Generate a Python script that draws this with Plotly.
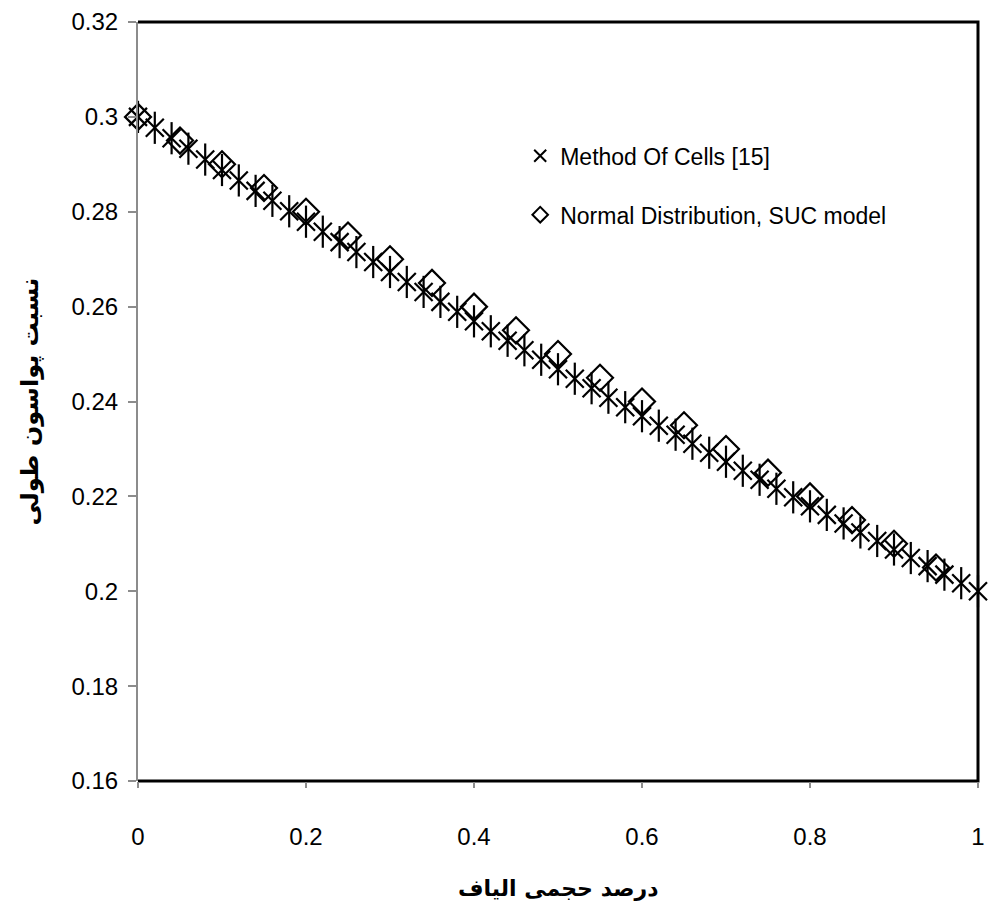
import plotly.graph_objects as go

# Fibre volume fraction and longitudinal Poisson's ratio
moc_x = [0.00, 0.02, 0.04, 0.06, 0.08, 0.10, 0.12, 0.14, 0.16, 0.18,
         0.20, 0.22, 0.24, 0.26, 0.28, 0.30, 0.32, 0.34, 0.36, 0.38,
         0.40, 0.42, 0.44, 0.46, 0.48, 0.50, 0.52, 0.54, 0.56, 0.58,
         0.60, 0.62, 0.64, 0.66, 0.68, 0.70, 0.72, 0.74, 0.76, 0.78,
         0.80, 0.82, 0.84, 0.86, 0.88, 0.90, 0.92, 0.94, 0.96, 0.98, 1.00]
moc_y = [0.3000, 0.2977, 0.2955, 0.2933, 0.2910, 0.2888, 0.2866, 0.2844, 0.2823, 0.2801,
         0.2779, 0.2758, 0.2736, 0.2715, 0.2694, 0.2673, 0.2652, 0.2631, 0.2610, 0.2589,
         0.2569, 0.2548, 0.2528, 0.2508, 0.2488, 0.2468, 0.2448, 0.2428, 0.2408, 0.2388,
         0.2369, 0.2349, 0.2330, 0.2311, 0.2292, 0.2273, 0.2254, 0.2235, 0.2216, 0.2198,
         0.2179, 0.2161, 0.2143, 0.2124, 0.2106, 0.2088, 0.2070, 0.2053, 0.2035, 0.2017, 0.2000]

suc_x = [0.00, 0.05, 0.10, 0.15, 0.20, 0.25, 0.30, 0.35, 0.40, 0.45,
         0.50, 0.55, 0.60, 0.65, 0.70, 0.75, 0.80, 0.85, 0.90, 0.95]
suc_y = [0.300, 0.295, 0.290, 0.285, 0.280, 0.275, 0.270, 0.265, 0.260, 0.255,
         0.250, 0.245, 0.240, 0.235, 0.230, 0.225, 0.220, 0.215, 0.210, 0.205]

moc_name = "Method Of Cells [15]"
suc_name = "Normal Distribution, SUC model"
x_title = "درصد حجمی الیاف"
y_title = "نسبت پواسون طولی"

x_ticks = [0, 0.2, 0.4, 0.6, 0.8, 1]
y_ticks = [0.16, 0.18, 0.2, 0.22, 0.24, 0.26, 0.28, 0.3, 0.32]

LAT = "Liberation Sans Narrow, Arial Narrow, Liberation Sans, sans-serif"
AR = "DejaVu Sans, Noto Sans, sans-serif"

fig = go.Figure()

# star marker = X plus a vertical stroke
fig.add_trace(go.Scatter(
    x=moc_x, y=moc_y, mode="markers", name=moc_name, legendgroup="moc",
    marker=dict(symbol="x-thin-open", size=18, color="black",
                line=dict(color="black", width=2.2)),
    cliponaxis=False,
))
fig.add_trace(go.Scatter(
    x=moc_x, y=moc_y, mode="markers", name=moc_name, legendgroup="moc",
    showlegend=False,
    marker=dict(symbol="line-ns-open", size=23, color="black",
                line=dict(color="black", width=2.2)),
    cliponaxis=False,
))
fig.add_trace(go.Scatter(
    x=suc_x, y=suc_y, mode="markers", name=suc_name, legendgroup="suc",
    marker=dict(symbol="diamond-open", size=20, color="black",
                line=dict(color="black", width=2.2)),
    cliponaxis=False,
))

# black frame on top, right and bottom
fig.add_shape(type="path", xref="paper", yref="paper",
              path="M 0,1 L 1,1 L 1,0 L 0,0",
              line=dict(color="black", width=3), layer="below")

fig.update_layout(
    width=988, height=909,
    margin=dict(l=138, r=10, t=22, b=128, autoexpand=False),
    paper_bgcolor="white", plot_bgcolor="white",
    font=dict(family=LAT, size=24, color="black"),
    showlegend=True,
    legend=dict(x=0.455, y=0.852, xanchor="left", yanchor="top",
                bgcolor="rgba(0,0,0,0)", font=dict(family=LAT, size=23),
                itemsizing="constant", tracegroupgap=26, itemwidth=30),
    xaxis=dict(range=[0, 1], tickvals=x_ticks, showgrid=False, zeroline=False,
               showline=False, ticks="outside", ticklen=6, tickwidth=2,
               tickcolor="#8c8c8c", ticklabelstandoff=28, automargin=False,
               tickfont=dict(family=LAT, size=24, color="black")),
    yaxis=dict(range=[0.16, 0.32], tickvals=y_ticks, showgrid=False, zeroline=False,
               showline=True, linecolor="#8c8c8c", linewidth=2,
               ticks="outside", ticklen=8, tickwidth=2, tickcolor="#8c8c8c",
               ticklabelstandoff=5, automargin=False,
               tickfont=dict(family=LAT, size=24, color="black")),
    annotations=[
        dict(text="<b>" + x_title + "</b>", xref="paper", yref="paper",
             x=0.5, y=-0.141, xanchor="center", yanchor="middle",
             showarrow=False, font=dict(family=AR, size=22, color="black")),
        dict(text="<b>" + y_title + "</b>", xref="paper", yref="paper",
             x=-0.1286, y=0.5, xanchor="center", yanchor="middle", textangle=-90,
             showarrow=False, font=dict(family=AR, size=24, color="black")),
    ],
)

fig.write_html("out.html")
